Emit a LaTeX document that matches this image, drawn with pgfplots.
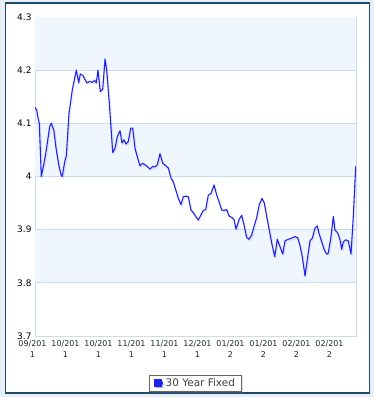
\documentclass[border=0pt]{standalone}
\usepackage{fontspec}
\setmainfont{DejaVu Sans}
\usepackage{pgfplots}
\usepackage{pgfplotstable}
\pgfplotsset{compat=1.18}
\usetikzlibrary{shadows}
\definecolor{outerbg}{RGB}{232,238,245}
\definecolor{framec}{RGB}{31,73,103}
\definecolor{bandc}{RGB}{239,246,254}
\definecolor{gridc}{RGB}{200,220,242}
\definecolor{linec}{RGB}{34,34,240}
\pgfplotstableread{
x y
35.0 4.130
36.7 4.125
38.0 4.110
39.3 4.100
41.3 4.000
44.0 4.025
46.3 4.050
49.7 4.094
51.3 4.100
53.7 4.088
56.3 4.050
59.0 4.019
61.3 4.002
62.3 4.000
64.7 4.028
66.3 4.039
69.0 4.119
72.3 4.163
76.3 4.200
78.7 4.176
80.3 4.193
83.0 4.190
84.7 4.183
87.0 4.176
89.7 4.179
92.3 4.177
94.7 4.181
96.3 4.176
98.0 4.200
100.3 4.160
102.7 4.164
105.0 4.221
106.7 4.200
109.3 4.138
112.7 4.045
115.0 4.053
117.3 4.075
120.0 4.086
122.0 4.063
124.0 4.069
126.0 4.061
128.3 4.066
130.7 4.091
132.7 4.091
135.0 4.053
137.3 4.037
140.0 4.020
142.7 4.025
145.0 4.022
147.3 4.019
150.0 4.014
152.7 4.019
155.0 4.018
157.3 4.022
160.0 4.043
162.7 4.025
166.0 4.020
168.3 4.016
171.0 3.997
173.3 3.990
175.7 3.975
178.3 3.959
181.0 3.947
183.3 3.962
185.7 3.963
188.3 3.962
191.0 3.937
193.3 3.932
195.7 3.925
198.3 3.918
201.0 3.928
203.3 3.936
205.7 3.938
208.3 3.965
211.0 3.968
214.0 3.984
216.7 3.965
219.3 3.951
221.7 3.937
224.3 3.936
226.7 3.938
229.0 3.926
231.7 3.923
234.0 3.919
236.0 3.901
239.3 3.920
241.7 3.927
244.0 3.909
246.7 3.885
249.0 3.882
251.7 3.890
254.0 3.906
256.7 3.923
259.3 3.947
262.0 3.959
264.3 3.950
266.7 3.925
269.3 3.899
272.0 3.872
274.7 3.849
277.3 3.882
280.0 3.868
282.7 3.854
285.0 3.879
288.3 3.882
291.7 3.884
295.0 3.887
297.7 3.885
300.0 3.870
302.3 3.849
305.0 3.813
307.7 3.849
310.0 3.879
312.3 3.884
315.0 3.903
317.3 3.907
319.0 3.893
321.7 3.877
324.3 3.862
326.7 3.854
328.3 3.856
331.0 3.887
333.3 3.925
335.0 3.899
337.7 3.894
340.0 3.881
341.7 3.863
343.3 3.877
345.7 3.881
348.3 3.879
351.0 3.854
353.3 3.925
355.7 4.019
}\ratedata
\begin{document}
\begin{tikzpicture}
\fill[outerbg] (0,0) rectangle (374bp,397bp);
\filldraw[fill=white, draw=framec, line width=1.5bp] (5.5bp,4bp) rectangle (369.5bp,394bp);
\begin{axis}[
  scale only axis,
  width=321bp, height=319bp,
  at={(35bp,61bp)}, anchor=south west,
  xmin=35, xmax=356, ymin=3.7, ymax=4.3,
  ytick={3.7,3.8,3.9,4.0,4.1,4.2,4.3},
  xtick={35,68,101,134,167,200,233,266,299,332},
  xticklabels={{09/201\\1},{10/201\\1},{10/201\\1},{11/201\\1},{11/201\\1},{12/201\\1},{01/201\\2},{01/201\\2},{02/201\\2},{02/201\\2}},
  x tick label style={align=center, font=\fontsize{8}{11}\selectfont, text=black!85, xshift=-2.5bp, yshift=-1bp},
  y tick label style={font=\fontsize{9}{10}\selectfont, text=black},
  /pgf/number format/assume math mode=true,
  major tick length=0pt,
  axis line style={gridc, line width=0.8bp},
  legend style={at={(0.5,-0.1473)}, anchor=center, draw=black!60, fill=white,
    font=\fontsize{10.5}{12}\selectfont, text=black!75, inner xsep=4.5bp, inner ysep=1.5bp,
    drop shadow={shadow xshift=1.5bp, shadow yshift=-1.5bp, opacity=0.25}},
  legend image code/.code={\fill[linec] (0bp,-3.35bp) rectangle (6.7bp,3.35bp); \path (0bp,0bp) -- (8.5bp,0bp);},
]
\fill[bandc] (axis cs:35,4.2) rectangle (axis cs:356,4.3);
\fill[bandc] (axis cs:35,4.0) rectangle (axis cs:356,4.1);
\fill[bandc] (axis cs:35,3.8) rectangle (axis cs:356,3.9);
\draw[gridc, line width=0.8bp] (axis cs:35,3.8) -- (axis cs:356,3.8);
\draw[gridc, line width=0.8bp] (axis cs:35,3.9) -- (axis cs:356,3.9);
\draw[gridc, line width=0.8bp] (axis cs:35,4.0) -- (axis cs:356,4.0);
\draw[gridc, line width=0.8bp] (axis cs:35,4.1) -- (axis cs:356,4.1);
\draw[gridc, line width=0.8bp] (axis cs:35,4.2) -- (axis cs:356,4.2);
\addplot[black, opacity=0.07, line width=1.8bp, line join=round, xshift=1bp, yshift=-1.5bp, forget plot] table {\ratedata};
\addplot[linec, line width=1.1bp, line join=round] table {\ratedata};
\addlegendentry{30 Year Fixed}
\end{axis}
\end{tikzpicture}
\end{document}
